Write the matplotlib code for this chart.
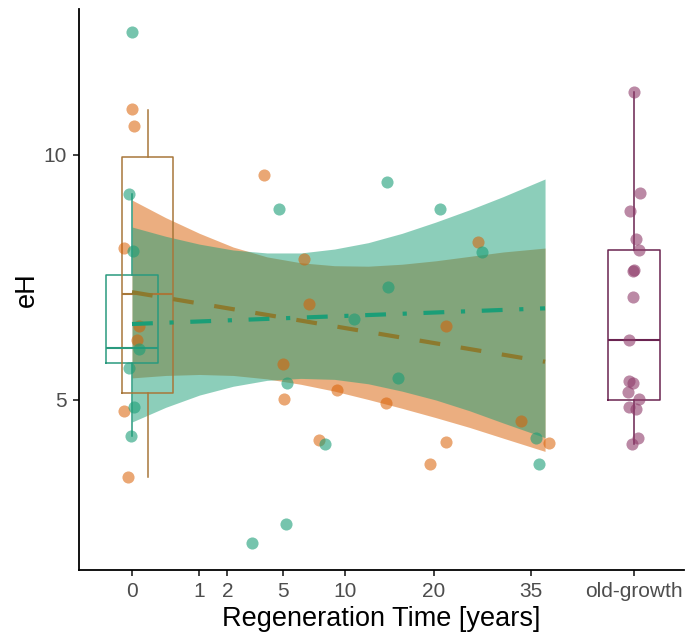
import matplotlib
matplotlib.use("Agg")
import matplotlib.pyplot as plt
import numpy as np

plt.rcParams['font.family'] = ['Liberation Sans', 'DejaVu Sans']

# x axis is sqrt(years); positions below are on that axis
tick_years = [0, 1, 2, 5, 10, 20, 35]
tick_labels = ["0", "1", "2", "5", "10", "20", "35", "old-growth"]
og_pos = 7.44

# group 1 (teal)
teal_x = [0, -0.04, 2.18, 0.01, 0.10, -0.04, 2.30, 0.03, -0.02, 2.28, 1.78,
          3.78, 4.56, 5.19, 3.79, 3.29, 3.94, 5.99, 2.86, 6.03]
teal_y = [12.51, 9.20, 8.90, 8.04, 6.04, 5.65, 5.35, 4.86, 4.27, 2.47, 2.08,
          9.45, 8.90, 8.02, 7.31, 6.65, 5.45, 4.22, 4.10, 3.69]

# group 2 (orange)
orange_x = [0, 0.03, 1.96, -0.12, 0.10, 0.07, 2.24, 2.25, -0.12, -0.06, 5.13,
            2.55, 2.62, 4.65, 3.04, 3.76, 5.76, 6.18, 2.77, 4.65, 4.41]
orange_y = [10.94, 10.59, 9.59, 8.10, 6.51, 6.22, 5.73, 5.02, 4.78, 3.43, 8.22,
            7.88, 6.96, 6.51, 5.20, 4.94, 4.57, 4.12, 4.18, 4.14, 3.69]

# old-growth
og_x = [7.44, 7.53, 7.38, 7.47, 7.51, 7.42, 7.42, 7.36, 7.36, 7.42, 7.35,
        7.51, 7.36, 7.47, 7.50, 7.41, 7.44]
og_y = [11.29, 9.22, 8.86, 8.29, 8.06, 7.63, 7.10, 6.22, 5.39, 5.35, 5.16,
        5.02, 4.86, 4.81, 4.22, 4.10, 7.66]

# model fits with confidence bands
fit_x = [0, 0.5, 1, 1.5, 2, 2.5, 3, 3.5, 4, 4.5, 5, 5.5, 6.12]
teal_up = [8.53, 8.34, 8.18, 8.06, 8.00, 8.00, 8.08, 8.21, 8.40, 8.63, 8.88, 9.15, 9.51]
teal_lo = [4.55, 4.85, 5.10, 5.28, 5.40, 5.44, 5.42, 5.33, 5.18, 5.00, 4.78, 4.53, 4.23]
orange_up = [9.08, 8.72, 8.40, 8.12, 7.92, 7.80, 7.74, 7.73, 7.77, 7.84, 7.93, 8.02, 8.10]
orange_lo = [5.45, 5.50, 5.52, 5.50, 5.43, 5.32, 5.18, 5.01, 4.83, 4.64, 4.44, 4.22, 3.95]
teal_line = [6.55, 6.87]
orange_line = [7.20, 5.78]

# box statistics
teal_box = dict(whislo=4.27, q1=5.76, med=6.06, q3=7.55, whishi=9.20)
orange_box = dict(whislo=3.43, q1=5.14, med=7.16, q3=9.96, whishi=10.92)
og_box = dict(whislo=4.10, q1=5.00, med=6.22, q3=8.06, whishi=11.29)

TEAL = "#1B9E77"
ORANGE = "#D95F02"
OG = "#8E3B6A"

fig = plt.figure(figsize=(6.86, 6.39), dpi=100)
ax = fig.add_axes([0.1152, 0.108, 0.882, 0.878])

ax.fill_between(fit_x, orange_lo, orange_up, color=ORANGE, alpha=0.5, lw=0, zorder=1)
ax.fill_between(fit_x, teal_lo, teal_up, color=TEAL, alpha=0.5, lw=0, zorder=2)


def draw_box(stats, pos, color, lw=1.1):
    ax.bxp([stats], positions=[pos], widths=[0.76], showfliers=False, showcaps=False,
           boxprops=dict(color=color, lw=lw), whiskerprops=dict(color=color, lw=lw),
           medianprops=dict(color=color, lw=lw + 0.4), manage_ticks=False, zorder=3)


draw_box(teal_box, 0, "#2A9A7E")
draw_box(orange_box, 0.23, "#A8773A")
draw_box(og_box, og_pos, "#6A2350")

ax.scatter(orange_x, orange_y, s=76, color=ORANGE, alpha=0.55, lw=0, zorder=4)
ax.scatter(teal_x, teal_y, s=76, color=TEAL, alpha=0.6, lw=0, zorder=4)
ax.scatter(og_x, og_y, s=76, color=OG, alpha=0.6, lw=0, zorder=4)

ends = [fit_x[0], fit_x[-1]]
ax.plot(ends, orange_line, color="#8C7A2E", lw=3, dashes=(5, 5), zorder=5)
ax.plot(ends, teal_line, color=TEAL, lw=3, dashes=(5, 4, 1, 4), zorder=5)

ax.set_xlim(-0.785, 8.18)
ax.set_ylim(1.53, 12.98)
ax.set_xticks(list(np.sqrt(tick_years)) + [og_pos])
ax.set_xticklabels(tick_labels)
ax.set_yticks([5, 10])
ax.tick_params(axis='both', labelsize=15, labelcolor="#4D4D4D", color="#333333",
               length=4, width=1.3, pad=5)
for side in ["top", "right"]:
    ax.spines[side].set_visible(False)
for side in ["left", "bottom"]:
    ax.spines[side].set_linewidth(1.3)
ax.set_xlabel("Regeneration Time [years]", fontsize=19.5, labelpad=3)
ax.set_ylabel("eH", fontsize=19.5, labelpad=2)

fig.savefig("out.png", dpi=100)
